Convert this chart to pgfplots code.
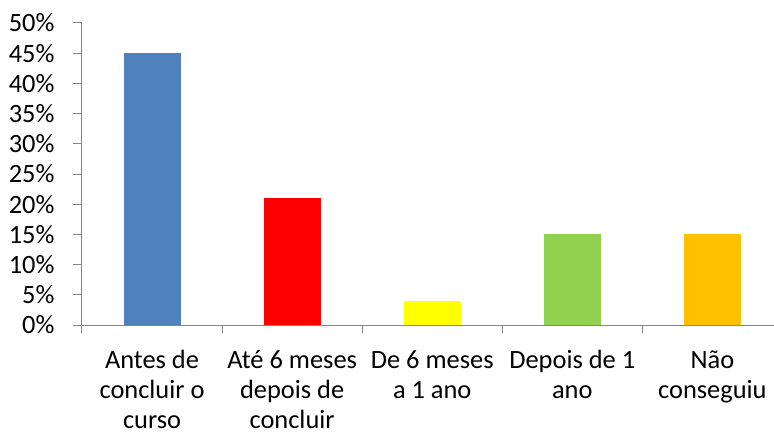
\documentclass[border=0pt]{standalone}
\usepackage{pgfplots}
\pgfplotsset{compat=1.18}
\usepackage{fontspec}
\setmainfont{Carlito}

\definecolor{axgray}{HTML}{868686}
\definecolor{cblue}{HTML}{4F81BD}
\definecolor{cred}{HTML}{FF0000}
\definecolor{cyellow}{HTML}{FFFF00}
\definecolor{cgreen}{HTML}{92D050}
\definecolor{corange}{HTML}{FFC000}

\begin{document}
\begin{tikzpicture}
\begin{axis}[
    scale only axis,
    width=692bp, height=302bp,
    xmin=-0.5, xmax=4.44,
    ymin=0, ymax=50,
    axis x line*=bottom, axis y line*=left,
    axis line style={axgray, line width=1bp, -},
    tick align=outside,
    major tick length=9bp,
    ytick={0,5,...,50},
    yticklabels={0\%,5\%,10\%,15\%,20\%,25\%,30\%,35\%,40\%,45\%,50\%},
    ytick style={axgray, line width=1bp},
    yticklabel style={font=\fontsize{26.5}{30}\selectfont, anchor=east, xshift=-15bp},
    xtick={0,1,2,3,4},
    xtick style={draw=none},
    xticklabels={Antes de\\concluir o\\curso, Até 6 meses\\depois de\\concluir, De 6 meses\\a 1 ano, Depois de 1\\ano, Não\\conseguiu},
    xticklabel style={font=\fontsize{26.5}{30}\selectfont, align=center, anchor=north, yshift=-13bp},
    extra x ticks={-0.5,0.5,1.5,2.5,3.5},
    extra x tick labels={},
    extra x tick style={major tick length=8bp, xtick style={draw=axgray, line width=1bp}},
    bar width=57bp,
]
\addplot[ybar, bar shift=0pt, fill=cblue, draw=none] coordinates {(0,45)};
\addplot[ybar, bar shift=0pt, fill=cred, draw=none] coordinates {(1,21)};
\addplot[ybar, bar shift=0pt, fill=cyellow, draw=none] coordinates {(2,4)};
\addplot[ybar, bar shift=0pt, fill=cgreen, draw=none] coordinates {(3,15)};
\addplot[ybar, bar shift=0pt, fill=corange, draw=none] coordinates {(4,15)};
\end{axis}
\pgfresetboundingbox
\path (-82bp,-109bp) rectangle (692bp,325bp);
\end{tikzpicture}
\end{document}
